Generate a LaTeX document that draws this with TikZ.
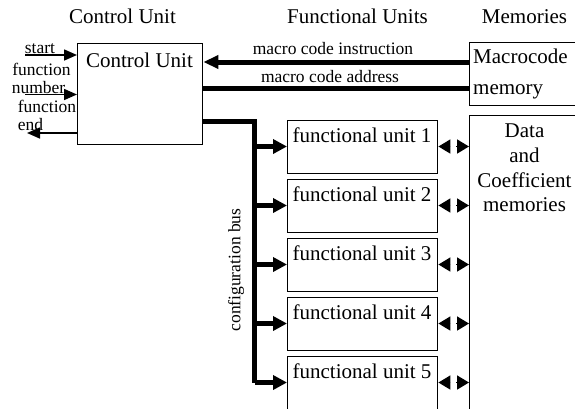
\documentclass[tikz,border=0pt]{standalone}
\usepackage{fontspec}
\setmainfont{Liberation Serif}
\usetikzlibrary{arrows.meta}
\tikzset{
  box/.style={draw, line width=1.4pt, inner sep=0pt, anchor=north west},
  big/.style={font=\fontsize{21}{25}\selectfont, inner sep=0pt},
  small/.style={font=\fontsize{17.5}{21}\selectfont, inner sep=0pt},
  thickline/.style={line width=5pt},
  thinline/.style={line width=1.6pt},
  bigtip/.style={-{Triangle[length=14pt,width=14pt]}},
  memtip/.style={-{Triangle[length=15pt,width=13pt]}},
  sigtip/.style={-{Triangle[length=13pt,width=11pt]}},
  futip/.style={-{Triangle[length=12pt,width=14pt]}}
}
\begin{document}
\begin{tikzpicture}[x=1pt,y=-1pt]
\clip (0,0) rectangle (575,408);
\fill[white] (0,0) rectangle (575,408);
% titles
\node[big, anchor=base] (t1) at (122.5,23) {Control Unit};
\node[big, anchor=base] (t2) at (357.5,23) {Functional Units};
\node[big, anchor=base] (t3) at (524.5,23) {Memories};
% control unit
\node[box, minimum width=125pt, minimum height=101pt] (cu) at (77,43) {};
\node[big, anchor=base] (cut) at (139.5,67) {Control Unit};
% memories
\node[box, minimum width=115pt, minimum height=63pt] (mm) at (469,42) {};
\node[big, anchor=base west] (mmt1) at (473,63) {Macrocode};
\node[big, anchor=base west] (mmt2) at (473,94) {memory};
\node[box, minimum width=112pt, minimum height=310pt] (dm) at (469,115) {};
\node[big, anchor=base] (dmt1) at (524.5,137) {Data};
\node[big, anchor=base] (dmt2) at (524.5,162) {and};
\node[big, anchor=base] (dmt3) at (524.5,187) {Coefficient};
\node[big, anchor=base] (dmt4) at (524.5,211) {memories};
% functional units
\foreach \i/\t in {1/120,2/179,3/238,4/297,5/356}{
  \node[box, minimum width=150pt, minimum height=53pt] (fu\i) at (287,\t) {};
  \node[big, anchor=base] (fut\i) at (362,\t+22) {functional unit \i};
  \coordinate (bus\i) at (254.5,\t+26.5);
  \coordinate (la\i) at (450,\t+26.5);
  \coordinate (ra\i) at (456,\t+26.5);
  \draw[thickline, bigtip] (bus\i) -- (fu\i.west |- bus\i);
  \draw[thinline, futip] (la\i) -- (fu\i.east |- la\i);
  \draw[thinline, futip] (ra\i) -- (dm.west |- ra\i);
}
% configuration bus
\coordinate (cbs) at (202,121);
\coordinate (cbc) at (254.5,121);
\draw[thickline, line join=miter] (cbs) -- (cbc) -- (bus5);
\node[small, rotate=90] (cbl) at (236,270) {configuration bus};
% macro code lines
\coordinate (yi) at (0,62);
\coordinate (ya) at (0,88.5);
\draw[thickline, memtip] (mm.west |- yi) -- (cu.east |- yi);
\draw[thickline] (cu.east |- ya) -- (mm.west |- ya);
\node[small, anchor=base] (mci) at (333,54) {macro code instruction};
\node[small, anchor=base] (mca) at (330,82) {macro code address};
% left signals
\coordinate (s1) at (25,55);
\coordinate (s2) at (25,94.5);
\coordinate (s3) at (27,133);
\draw[thinline, sigtip] (s1) -- (cu.west |- s1);
\draw[thinline, sigtip] (s2) -- (cu.west |- s2);
\draw[thinline, sigtip] (cu.west |- s3) -- (s3);
\node[small, anchor=base] (l1) at (40,53) {start};
\node[small, anchor=base] (l2) at (41.5,75) {function};
\node[small, anchor=base] (l3) at (38.5,93) {number};
\node[small, anchor=base] (l4) at (47,112) {function};
\node[small, anchor=base] (l5) at (30.5,130) {end};
\end{tikzpicture}
\end{document}
